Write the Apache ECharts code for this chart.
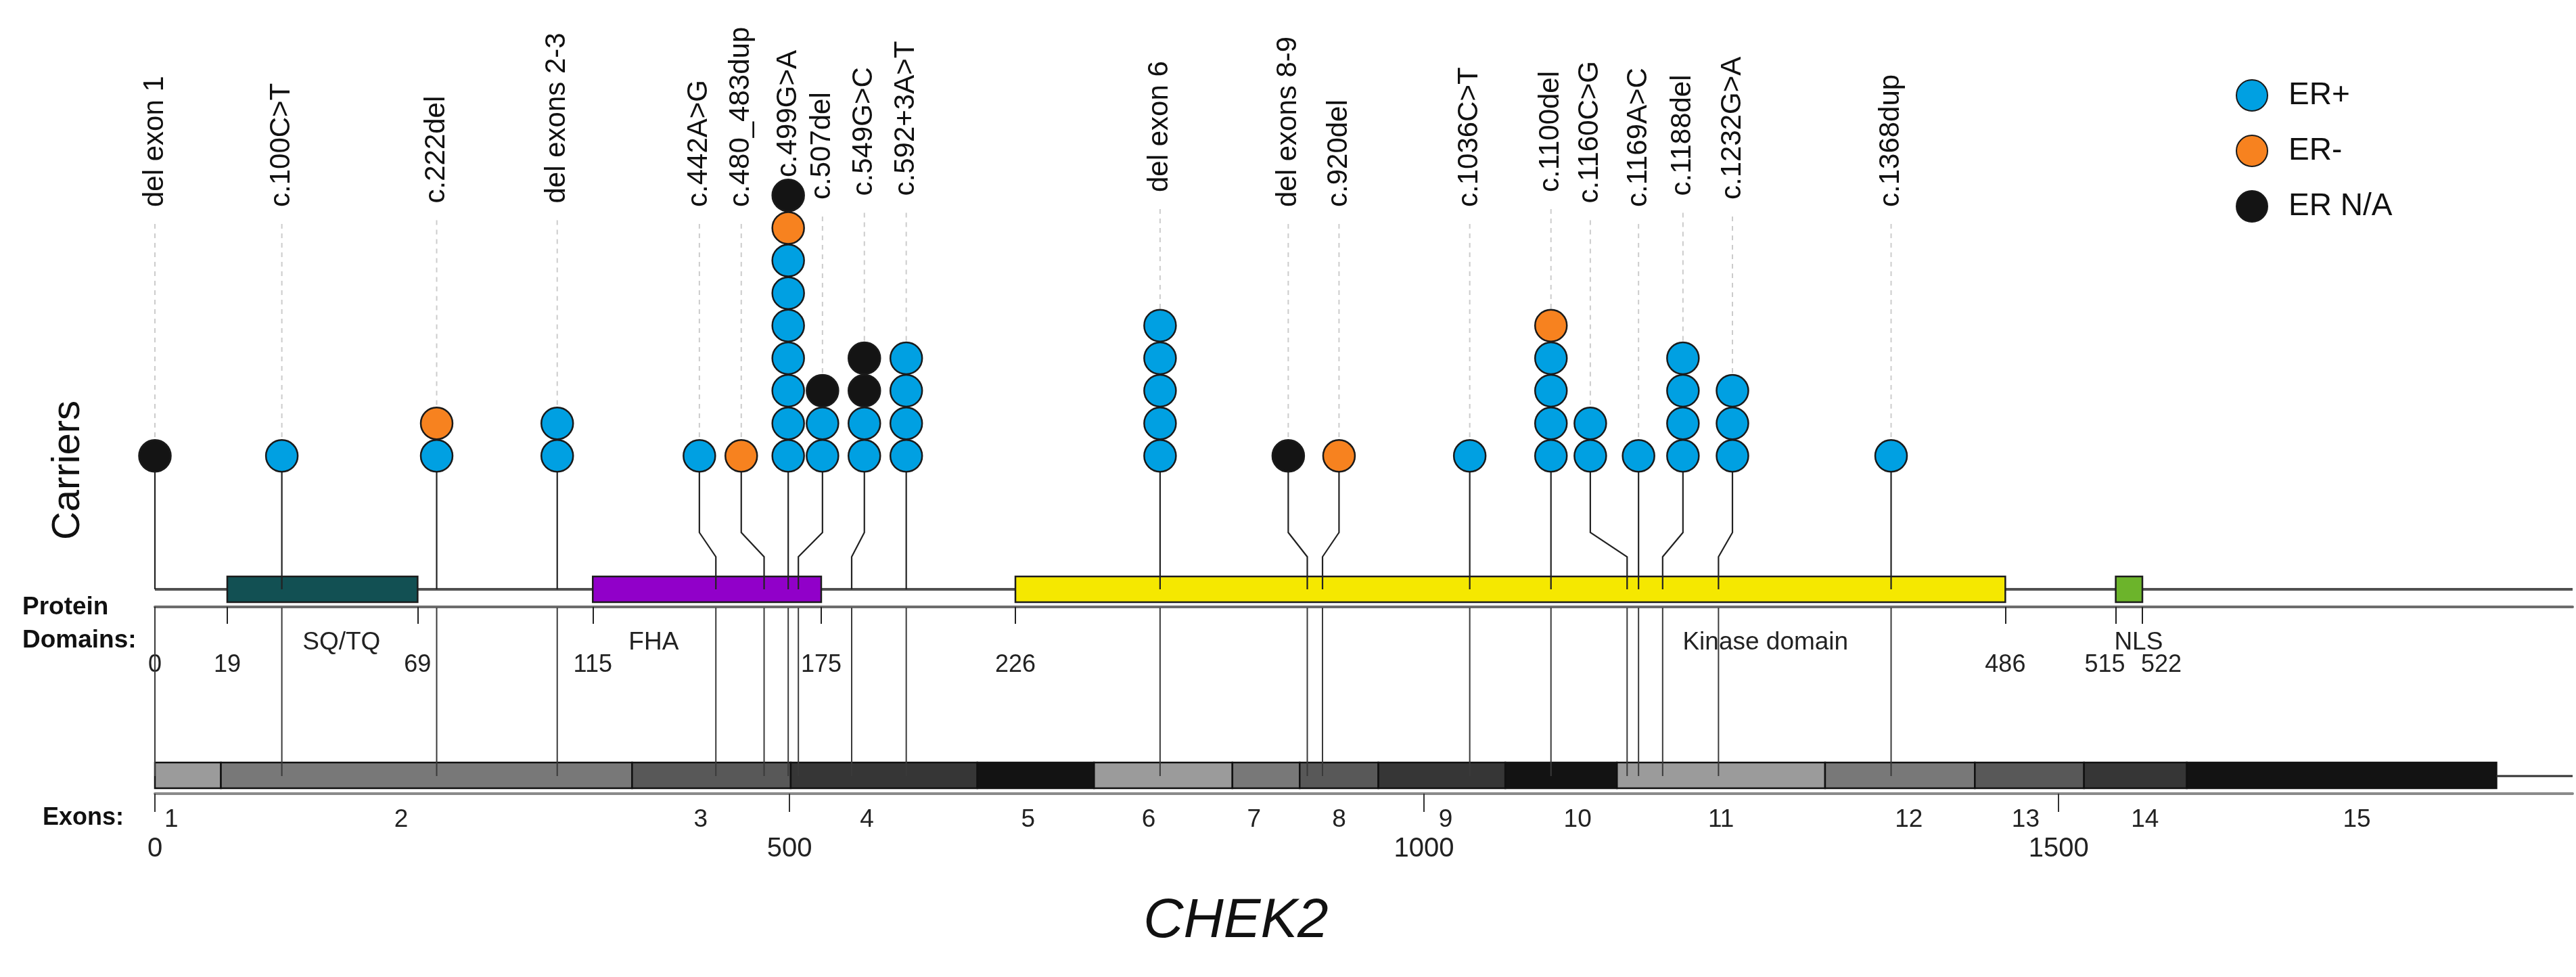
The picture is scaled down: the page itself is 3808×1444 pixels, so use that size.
<!DOCTYPE html>
<html>
<head>
<meta charset="utf-8">
<script src="https://cdn.jsdelivr.net/npm/echarts@6/dist/echarts.min.js"></script>
<style>
html,body{margin:0;padding:0;background:#ffffff;}
#chart{width:3808px;height:1444px;}
</style>
</head>
<body>
<div id="chart"></div>
<script>
// ---------------- data ----------------
const mutationLabels = ['del exon 1','c.100C>T','c.222del','del exons 2-3','c.442A>G','c.480_483dup','c.499G>A','c.507del','c.549G>C','c.592+3A>T','del exon 6','del exons 8-9','c.920del','c.1036C>T','c.1100del','c.1160C>G','c.1169A>C','c.1188del','c.1232G>A','c.1368dup'];
// position of each variant on the transcript axis (where the stem meets the protein)
const mutationPos = [0,100,222,317,442,480,499,507,549,592,792,908,920,1036,1100,1160,1169,1188,1232,1368];
// position of the lollipop head (shifted sideways when heads would collide)
const headPos = [0,100,222,317,429,462,499,526,559,592,792,893,933,1036,1100,1131,1169,1204,1243,1368];
const carriersERpos = [0,1,1,2,1,0,7,2,2,4,5,0,0,1,4,2,1,4,3,1];
const carriersERneg = [0,0,1,0,0,1,1,0,0,0,0,0,1,0,1,0,0,0,0,0];
const carriersERna  = [1,0,0,0,0,0,1,1,2,0,0,1,0,0,0,0,0,0,0,0];

const domainNames = ['SQ/TQ','FHA','Kinase domain','NLS'];
const domainStart = [19,115,226,515];   // amino acids
const domainEnd   = [69,175,486,522];
const domainNameAt = [49,131,423,521];  // amino acid where each name is written
const domainTicks = [0,19,69,115,175,226,486,515,522];

const exonNames = ['1','2','3','4','5','6','7','8','9','10','11','12','13','14','15'];
const exonEnd = [52,376,501,648,740,849,902,964,1064,1152,1316,1434,1520,1601,1845];
const exonLabelAt = [13,194,430,561,688,783,866,933,1017,1121,1234,1382,1474,1568,1735];
const transcriptTicks = [0,500,1000,1500];
const transcriptMax = 1905;

const legendNames = ['ER+','ER-','ER N/A'];
const legendColors = ['#00a0e2','#f7821f','#141414'];

// ---------------- layout constants ----------------
const FONT = "'Liberation Sans', Arial, sans-serif";
const Y_PROT = 871, BOX_T = 852, BOX_B = 890;
const Y_DOMAXIS = 897;
const Y_BEND1 = 787, Y_BEND2 = 823;
const EX_T = 1127, EX_B = 1165, EX_MID = 1147;

const chart = echarts.init(document.getElementById('chart'), null, {renderer: 'canvas'});

// build dot data
const dotData = [[], [], []];
for (let i = 0; i < mutationLabels.length; i++) {
  let k = 0;
  const counts = [carriersERpos[i], carriersERneg[i], carriersERna[i]];
  for (let g = 0; g < 3; g++) {
    for (let c = 0; c < counts[g]; c++) {
      k++;
      dotData[g].push([headPos[i], k]);
    }
  }
}
const stemData = mutationLabels.map((m, i) => [mutationPos[i], headPos[i], carriersERpos[i] + carriersERneg[i] + carriersERna[i]]);

let prev = 0;
const exonData = exonEnd.map((e, i) => { const d = [prev, e, i, exonLabelAt[i]]; prev = e; return d; });
const domainData = domainStart.map((s, i) => [s, domainEnd[i], domainNameAt[i], i]);
const domainColors = ['#125053','#9100c9','#f5e800','#6cb42b'];
const exonGrays = ['#9b9b9b','#787878','#585858','#363636','#131313'];

const option = {
  animation: false,
  backgroundColor: '#ffffff',
  grid: [
    {left: 229, right: 5, top: 0, bottom: 0},
    {left: 229, right: 5, top: 800, height: 97},
    {left: 229, right: 5, top: 1100, height: 73}
  ],
  xAxis: [
    {gridIndex: 0, type: 'value', min: 0, max: transcriptMax, show: false},
    {gridIndex: 0, type: 'value', min: 0, max: transcriptMax / 3, show: false},
    {gridIndex: 1, type: 'value', min: 0, max: transcriptMax / 3, position: 'bottom',
      splitLine: {show: false},
      axisLine: {show: true, lineStyle: {color: '#6c6c6c', width: 4}},
      axisTick: {show: true, customValues: domainTicks, length: 25, lineStyle: {color: '#222', width: 2}},
      axisLabel: {show: true, customValues: domainTicks, margin: 68, fontSize: 36, color: '#222', fontFamily: FONT,
        formatter: function (v) {
          if (v === 515) return '{l|515}';
          if (v === 522) return '{r|522}';
          return '{n|' + v + '}';
        },
        rich: {
          n: {fontSize: 36, color: '#222', fontFamily: FONT},
          l: {fontSize: 36, color: '#222', fontFamily: FONT, padding: [0, 32, 0, 0]},
          r: {fontSize: 36, color: '#222', fontFamily: FONT, padding: [0, 0, 0, 56]}
        }
      }
    },
    {gridIndex: 2, type: 'value', min: 0, max: transcriptMax, position: 'bottom',
      splitLine: {show: false},
      axisLine: {show: true, lineStyle: {color: '#8a8a8a', width: 4}},
      axisTick: {show: true, customValues: transcriptTicks, length: 27, lineStyle: {color: '#333', width: 2}},
      axisLabel: {show: true, customValues: transcriptTicks, margin: 62, fontSize: 40, color: '#222', fontFamily: FONT,
        formatter: function (v) { return String(v); }}
    }
  ],
  yAxis: [
    {gridIndex: 0, type: 'value', min: -15, max: 15, show: false},
    {gridIndex: 1, type: 'value', min: 0, max: 1, show: false},
    {gridIndex: 2, type: 'value', min: 0, max: 1, show: false}
  ],
  legend: {
    data: legendNames,
    orient: 'vertical',
    left: 3300, top: 112,
    itemWidth: 46, itemHeight: 46, itemGap: 34,
    icon: 'circle',
    textStyle: {fontSize: 46, color: '#111', fontFamily: FONT, padding: [0, 0, 0, 26]}
  },
  graphic: [
    {type: 'text', x: 101, y: 695, rotation: Math.PI / 2,
      style: {text: 'Carriers', fontSize: 58, fontFamily: FONT, fill: '#111', align: 'center', verticalAlign: 'middle'}},
    {type: 'text', x: 33, y: 898,
      style: {text: 'Protein', fontSize: 37, fontWeight: 'bold', fontFamily: FONT, fill: '#111', align: 'left', verticalAlign: 'middle'}},
    {type: 'text', x: 33, y: 947,
      style: {text: 'Domains:', fontSize: 37, fontWeight: 'bold', fontFamily: FONT, fill: '#111', align: 'left', verticalAlign: 'middle'}},
    {type: 'text', x: 183, y: 1209,
      style: {text: 'Exons:', fontSize: 36, fontWeight: 'bold', fontFamily: FONT, fill: '#111', align: 'right', verticalAlign: 'middle'}},
    {type: 'text', x: 1827, y: 1362,
      style: {text: 'CHEK2', fontSize: 82, fontStyle: 'italic', fontFamily: FONT, fill: '#111', align: 'center', verticalAlign: 'middle'}}
  ],
  series: [
    // protein backbone
    {type: 'custom', name: 'protein', xAxisIndex: 0, yAxisIndex: 0, z: 1, silent: true,
      data: [[0, transcriptMax]],
      renderItem: function (params, api) {
        const x1 = api.coord([api.value(0), 0])[0];
        const x2 = api.coord([api.value(1), 0])[0];
        return {type: 'line', shape: {x1: x1, y1: Y_PROT, x2: x2, y2: Y_PROT},
          style: {stroke: '#505050', lineWidth: 4}};
      }
    },
    // domains
    {type: 'custom', name: 'domains', xAxisIndex: 1, yAxisIndex: 0, z: 2, silent: true,
      data: domainData,
      renderItem: function (params, api) {
        const x1 = api.coord([api.value(0), 0])[0];
        const x2 = api.coord([api.value(1), 0])[0];
        const xn = api.coord([api.value(2), 0])[0];
        const i = api.value(3);
        return {type: 'group', children: [
          {type: 'rect', shape: {x: x1, y: BOX_T, width: x2 - x1, height: BOX_B - BOX_T},
            style: {fill: domainColors[i], stroke: '#1c1c1c', lineWidth: 2.5}},
          {type: 'text', x: xn, y: 950,
            style: {text: domainNames[i], fontSize: 37, fontFamily: FONT, fill: '#222', align: 'center', verticalAlign: 'middle'}}
        ]};
      }
    },
    // exons
    {type: 'custom', name: 'exons', xAxisIndex: 0, yAxisIndex: 0, z: 2, silent: true,
      data: exonData,
      renderItem: function (params, api) {
        const x1 = api.coord([api.value(0), 0])[0];
        const x2 = api.coord([api.value(1), 0])[0];
        const i = api.value(2);
        const xl = api.coord([api.value(3), 0])[0];
        const ch = [
          {type: 'rect', shape: {x: x1, y: EX_T, width: x2 - x1, height: EX_B - EX_T},
            style: {fill: exonGrays[i % 5], stroke: '#111', lineWidth: 2.5}},
          {type: 'text', x: xl, y: 1212,
            style: {text: exonNames[i], fontSize: 37, fontFamily: FONT, fill: '#222', align: 'center', verticalAlign: 'middle'}}
        ];
        if (i === exonEnd.length - 1) {
          const xe = api.coord([transcriptMax, 0])[0];
          ch.push({type: 'line', shape: {x1: x2, y1: EX_MID, x2: xe, y2: EX_MID}, style: {stroke: '#333', lineWidth: 3}});
        }
        return {type: 'group', children: ch};
      }
    },
    // stems, connectors, guides and labels
    {type: 'custom', name: 'stems', xAxisIndex: 0, yAxisIndex: 0, z: 3, silent: true,
      data: stemData,
      renderItem: function (params, api) {
        const xa = api.coord([api.value(0), 1])[0];
        const xd = api.coord([api.value(1), 1])[0];
        const n = api.value(2);
        const yBottom = api.coord([api.value(1), 1])[1];
        const yTop = api.coord([api.value(1), n])[1];
        const labelBottom = 306 - 5.5 * (n - 1);
        const ch = [];
        ch.push({type: 'polyline', z2: 1,
          shape: {points: [[xd, yBottom], [xd, Y_BEND1], [xa, Y_BEND2], [xa, Y_PROT]]},
          style: {stroke: '#222', lineWidth: 2.2, fill: null}});
        ch.push({type: 'line', shape: {x1: xa, y1: Y_DOMAXIS + 1, x2: xa, y2: EX_MID},
          style: {stroke: '#3a3a3a', lineWidth: 2}});
        const gTop = labelBottom + 25, gBot = yTop - 24;
        if (gBot > gTop) {
          ch.push({type: 'line', shape: {x1: xd, y1: gTop, x2: xd, y2: gBot},
            style: {stroke: '#cccccc', lineWidth: 2, lineDash: [7, 7]}});
        }
        ch.push({type: 'text', x: xd, y: labelBottom, rotation: Math.PI / 2,
          style: {text: mutationLabels[params.dataIndex], fontSize: 42, fontFamily: FONT, fill: '#111',
            align: 'left', verticalAlign: 'middle'}});
        return {type: 'group', children: ch};
      }
    },
    {type: 'scatter', name: legendNames[0], xAxisIndex: 0, yAxisIndex: 0, z: 4, data: dotData[0],
      symbol: 'circle', symbolSize: 47,
      itemStyle: {color: legendColors[0], borderColor: '#1a1a1a', borderWidth: 2.5, opacity: 1}},
    {type: 'scatter', name: legendNames[1], xAxisIndex: 0, yAxisIndex: 0, z: 4, data: dotData[1],
      symbol: 'circle', symbolSize: 47,
      itemStyle: {color: legendColors[1], borderColor: '#1a1a1a', borderWidth: 2.5, opacity: 1}},
    {type: 'scatter', name: legendNames[2], xAxisIndex: 0, yAxisIndex: 0, z: 4, data: dotData[2],
      symbol: 'circle', symbolSize: 47,
      itemStyle: {color: legendColors[2], borderColor: '#1a1a1a', borderWidth: 2.5, opacity: 1}}
  ]
};
chart.setOption(option);
</script>
</body>
</html>
